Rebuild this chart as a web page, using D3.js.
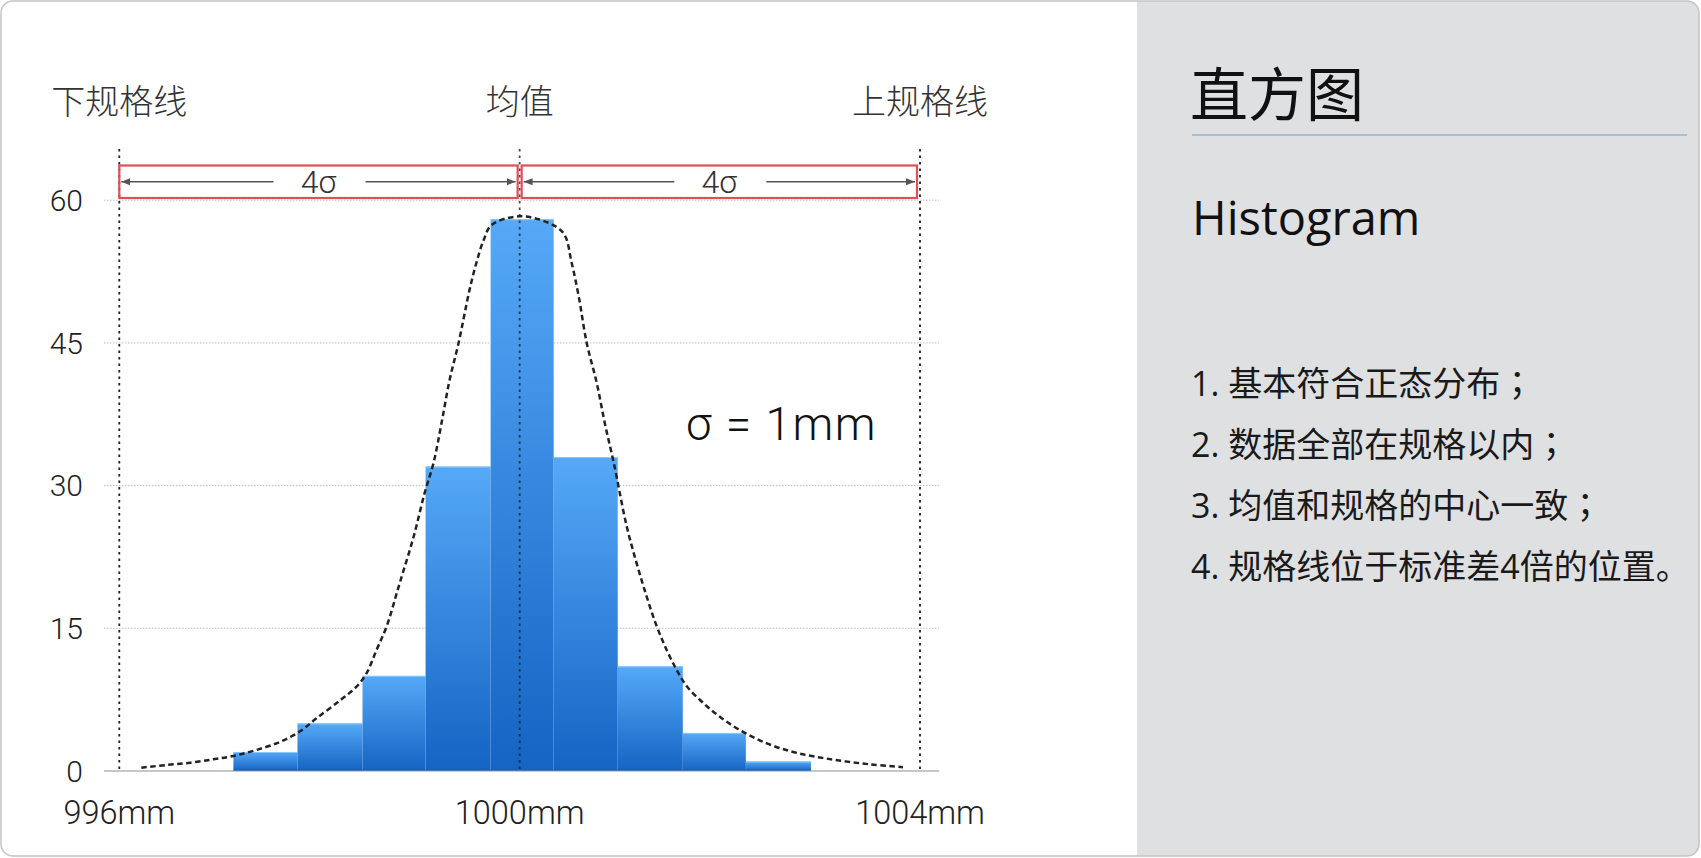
<!DOCTYPE html>
<html>
<head>
<meta charset="utf-8">
<script src="https://cdn.jsdelivr.net/npm/d3@7/dist/d3.min.js"></script>
<style>
  html, body { margin: 0; padding: 0; background: #ffffff; }
  svg { display: block; }
</style>
</head>
<body>
<svg id="chart" width="1701" height="858"></svg>
<script>
// ---------------- DATA ----------------
const binEdges = [997.14, 997.78, 998.43, 999.06, 999.71, 1000.34, 1000.98, 1001.63, 1002.26, 1002.91];
const counts   = [2, 5, 10, 32, 58, 33, 11, 4, 1];

// dashed reference curve (mm, count)
const curveX = [996.22, 996.47, 996.71, 996.94, 997.14, 997.37, 997.61, 997.81, 997.97, 998.21,
                998.37, 998.47, 998.57, 998.67, 998.80, 998.94, 999.05, 999.14, 999.22, 999.30,
                999.39, 999.50, 999.57, 999.64, 999.72, 999.99, 1000.27, 1000.44, 1000.52, 1000.59,
                1000.67, 1000.77, 1000.85, 1000.94, 1001.07, 1001.17, 1001.27, 1001.37, 1001.47, 1001.57,
                1001.67, 1001.84, 1002.00, 1002.20, 1002.47, 1002.77, 1003.13, 1003.50, 1003.83];
const curveY = [0.35, 0.63, 0.87, 1.23, 1.58, 2.21, 3.08, 4.20, 5.54, 7.46,
                8.86, 10.27, 12.72, 15.17, 19.7, 24.6, 29.2, 32.4, 36.6, 41.1,
                45.0, 50.6, 53.5, 55.8, 57.4, 58.3, 57.7, 56.5, 53.4, 49.9,
                45.0, 40.8, 36.6, 32.4, 25.7, 21.8, 18.3, 15.2, 12.7, 10.6,
                8.9, 7.1, 5.7, 4.3, 2.9, 1.9, 1.2, 0.7, 0.4];

const yTicks = [0, 15, 30, 45, 60];
const xTicks = [996, 1000, 1004];
const xTickLabels = ["996mm", "1000mm", "1004mm"];
const specValues = [996, 1000, 1004];
const specLabels = ["下规格线", "均值", "上规格线"];
const spanLabel = "4σ";
const sigmaLabel = "σ = 1mm";
const panelTitle = "直方图";
const panelSubtitle = "Histogram";
const noteBodies = ["1. 基本符合正态分布", "2. 数据全部在规格以内", "3. 均值和规格的中心一致", "4. 规格线位于标准差4倍的位置"];
const noteEnds   = ["；", "；", "；", "。"];

// ---------------- LAYOUT ----------------
const svg = d3.select("#chart");
const W = 1701, H = 858;
const latin = "Roboto, 'Liberation Sans', sans-serif";
const cjk = "'Noto Sans CJK SC', 'Noto Sans', sans-serif";

const x = d3.scaleLinear().domain([996, 1004]).range([119.3, 920]);
const y = d3.scaleLinear().domain([0, 60]).range([771, 200.2]);
const gridL = 104, gridR = 939;

// outer frame + right panel
const defs = svg.append("defs");
defs.append("clipPath").attr("id", "frameClip")
  .append("rect").attr("x", 1).attr("y", 1).attr("width", 1698).attr("height", 855).attr("rx", 12);

svg.append("rect").attr("x", 1).attr("y", 1).attr("width", 1698).attr("height", 855).attr("rx", 12)
  .attr("fill", "#ffffff");
svg.append("g").attr("clip-path", "url(#frameClip)")
  .append("rect").attr("x", 1137).attr("y", 0).attr("width", 570).attr("height", H)
  .attr("fill", "#dfe0e2");
svg.append("rect").attr("x", 1).attr("y", 1).attr("width", 1698).attr("height", 855).attr("rx", 12)
  .attr("fill", "none").attr("stroke", "#c4c4c4").attr("stroke-width", 1.5);

// gradient for bars
const grad = defs.append("linearGradient").attr("id", "barGrad")
  .attr("x1", 0).attr("y1", 0).attr("x2", 0).attr("y2", 1);
grad.append("stop").attr("offset", "0%").attr("stop-color", "#55a9f7");
grad.append("stop").attr("offset", "100%").attr("stop-color", "#1464c4");

const g = svg.append("g");

// horizontal gridlines (dotted)
g.selectAll(".grid").data(yTicks.filter(d => d > 0)).join("line")
  .attr("x1", gridL).attr("x2", gridR)
  .attr("y1", d => y(d)).attr("y2", d => y(d))
  .attr("stroke", "#bdbdbd").attr("stroke-width", 1).attr("stroke-dasharray", "1.5,1.5");

// bars
const bins = counts.map((c, i) => ({ x0: binEdges[i], x1: binEdges[i + 1], c }));
g.selectAll(".bar").data(bins).join("rect")
  .attr("x", d => x(d.x0)).attr("width", d => x(d.x1) - x(d.x0))
  .attr("y", d => y(d.c)).attr("height", d => y(0) - y(d.c))
  .attr("fill", "url(#barGrad)");
g.selectAll(".barTop").data(bins).join("line")
  .attr("x1", d => x(d.x0)).attr("x2", d => x(d.x1))
  .attr("y1", d => y(d.c) + 0.5).attr("y2", d => y(d.c) + 0.5)
  .attr("stroke", "#8cc6fa").attr("stroke-width", 1);

// baseline
g.append("line").attr("x1", gridL).attr("x2", gridR).attr("y1", y(0)).attr("y2", y(0))
  .attr("stroke", "#b5b5b5").attr("stroke-width", 1.5);
g.append("line").attr("x1", x(binEdges[0])).attr("x2", x(binEdges[binEdges.length - 1]))
  .attr("y1", y(0) - 1).attr("y2", y(0) - 1)
  .attr("stroke", "#0d5bb3").attr("stroke-width", 1.2);

// spec / mean vertical dotted lines
g.selectAll(".spec").data(specValues).join("line")
  .attr("x1", d => x(d)).attr("x2", d => x(d))
  .attr("y1", 149).attr("y2", y(0))
  .attr("stroke", "#1e1e1e").attr("stroke-opacity", d => d === 1000 ? 0.8 : 1)
  .attr("stroke-width", 1.8).attr("stroke-dasharray", "2.5,4");

// dashed curve
const pts = curveX.map((v, i) => [v, curveY[i]]);
g.append("path").datum(pts)
  .attr("d", d3.line().x(d => x(d[0])).y(d => y(d[1])).curve(d3.curveCatmullRom.alpha(0.5)))
  .attr("fill", "none").attr("stroke", "#222").attr("stroke-width", 2.5)
  .attr("stroke-dasharray", "5.5,3.5");

// y tick labels
g.selectAll(".ytl").data(yTicks).join("text")
  .attr("x", 83).attr("y", d => y(d)).attr("dy", "0.36em")
  .attr("text-anchor", "end")
  .attr("font-family", latin).attr("font-weight", 300).attr("font-size", 30)
  .attr("fill", "#222").text(d => d);

// x tick labels
g.selectAll(".xtl").data(xTicks).join("text")
  .attr("x", d => x(d)).attr("y", 824)
  .attr("text-anchor", "middle")
  .attr("font-family", latin).attr("font-weight", 300).attr("font-size", 32.5)
  .attr("fill", "#222").text((d, i) => xTickLabels[i]);

// spec labels on top
g.selectAll(".specl").data(specValues).join("text")
  .attr("x", d => x(d)).attr("y", 114)
  .attr("text-anchor", "middle")
  .attr("font-family", cjk).attr("font-weight", 300).attr("font-size", 34)
  .attr("fill", "#333").text((d, i) => specLabels[i]);

// red boxes with 4σ arrows
defs.append("marker").attr("id", "arrowR").attr("viewBox", "0 0 10 10")
  .attr("refX", 10).attr("refY", 5).attr("markerWidth", 9).attr("markerHeight", 9)
  .attr("markerUnits", "userSpaceOnUse").attr("orient", "auto")
  .append("path").attr("d", "M0,1 L10,5 L0,9 Z").attr("fill", "#555");
defs.append("marker").attr("id", "arrowL").attr("viewBox", "0 0 10 10")
  .attr("refX", 0).attr("refY", 5).attr("markerWidth", 9).attr("markerHeight", 9)
  .attr("markerUnits", "userSpaceOnUse").attr("orient", "auto")
  .append("path").attr("d", "M10,1 L0,5 L10,9 Z").attr("fill", "#555");

const spans = [[specValues[0], specValues[1]], [specValues[1], specValues[2]]];
const boxTop = 165.5, boxBot = 198;
spans.forEach((s, i) => {
  const x0 = x(s[0]) + (i === 0 ? 0 : 2);
  const x1 = x(s[1]) - (i === 0 ? 2 : 3);
  const cx = (x0 + x1) / 2, cy = (boxTop + boxBot) / 2;
  g.append("rect").attr("x", x0).attr("y", boxTop).attr("width", x1 - x0).attr("height", boxBot - boxTop)
    .attr("fill", "none").attr("stroke", "#df4f55").attr("stroke-width", 2.2);
  g.append("line").attr("x1", x0 + 2).attr("x2", cx - 45).attr("y1", cy).attr("y2", cy)
    .attr("stroke", "#555").attr("stroke-width", 1.3).attr("marker-start", "url(#arrowL)");
  g.append("line").attr("x1", cx + 47).attr("x2", x1 - 2).attr("y1", cy).attr("y2", cy)
    .attr("stroke", "#555").attr("stroke-width", 1.3).attr("marker-end", "url(#arrowR)");
  g.append("text").attr("x", cx).attr("y", cy).attr("dy", "0.36em").attr("text-anchor", "middle")
    .attr("font-family", latin).attr("font-weight", 300).attr("font-size", 32)
    .attr("fill", "#333").text(spanLabel);
});

// sigma annotation
g.append("text").attr("x", 686).attr("y", 440)
  .attr("font-family", latin).attr("font-weight", 300).attr("font-size", 46)
  .attr("letter-spacing", 1.5)
  .attr("fill", "#111").text(sigmaLabel);

// ---------------- RIGHT PANEL ----------------
const p = svg.append("g");
p.append("text").attr("x", 1190).attr("y", 116)
  .attr("font-family", cjk).attr("font-size", 58).attr("fill", "#111").text(panelTitle);
p.append("line").attr("x1", 1192).attr("x2", 1687).attr("y1", 135).attr("y2", 135)
  .attr("stroke", "#a9bdd6").attr("stroke-width", 2);
p.append("text").attr("x", 1192).attr("y", 235)
  .attr("font-family", "'Open Sans', 'Noto Sans', sans-serif").attr("font-size", 47)
  .attr("fill", "#111").text(panelSubtitle);
const notesSel = p.selectAll(".note").data(noteBodies).join("text")
  .attr("x", 1191).attr("y", (d, i) => 396 + i * 61)
  .attr("font-family", "'Open Sans', " + cjk).attr("font-size", 34)
  .attr("fill", "#1a1a1a");
notesSel.append("tspan").text(d => d);
notesSel.append("tspan")
  .attr("font-family", (d, i) => noteEnds[i] === "；" ? "'Noto Sans CJK JP', " + cjk : cjk)
  .text((d, i) => noteEnds[i]);
</script>
</body>
</html>
